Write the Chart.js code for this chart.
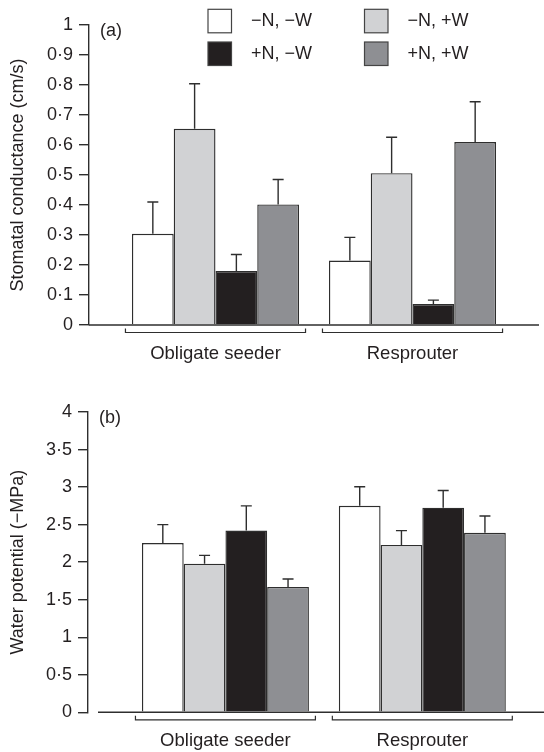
<!DOCTYPE html>
<html>
<head>
<meta charset="utf-8">
<script src="https://cdn.jsdelivr.net/npm/chart.js@4.4.1/dist/chart.umd.min.js"></script>
<style>
  body { margin: 0; background: #fff; }
  .panel { position: absolute; left: 0; width: 544px; height: 376px; }
</style>
</head>
<body>
<div class="panel" style="top:0"><canvas id="chartA" width="544" height="376"></canvas></div>
<div class="panel" style="top:376px"><canvas id="chartB" width="544" height="376"></canvas></div>
<script>
// categories and treatments
const categories = ["Obligate seeder", "Resprouter"];
const treatments = ["\u2212N, \u2212W", "\u2212N, +W", "+N, \u2212W", "+N, +W"];
const fills = ["#ffffff", "#d1d2d4", "#231f20", "#8e8f93"];

// (a) stomatal conductance (cm/s), mean and upper error
const gsMinusNMinusW = [0.304, 0.215];
const gsMinusNPlusW = [0.654, 0.506];
const gsPlusNMinusW = [0.18, 0.07];
const gsPlusNPlusW = [0.402, 0.61];
const gsErrMinusNMinusW = [0.106, 0.077];
const gsErrMinusNPlusW = [0.15, 0.12];
const gsErrPlusNMinusW = [0.055, 0.013];
const gsErrPlusNPlusW = [0.083, 0.134];

// (b) water potential (-MPa), mean and upper error
const wpMinusNMinusW = [2.255, 2.75];
const wpMinusNPlusW = [1.98, 2.23];
const wpPlusNMinusW = [2.42, 2.725];
const wpPlusNPlusW = [1.67, 2.39];
const wpErrMinusNMinusW = [0.245, 0.255];
const wpErrMinusNPlusW = [0.11, 0.19];
const wpErrPlusNMinusW = [0.33, 0.23];
const wpErrPlusNPlusW = [0.105, 0.225];

const gsTicks = [0, 0.1, 0.2, 0.3, 0.4, 0.5, 0.6, 0.7, 0.8, 0.9, 1];
const wpTicks = [0, 0.5, 1, 1.5, 2, 2.5, 3, 3.5, 4];

const ink = "#231f20";
const lineCol = "#2e2e2e";
const groupPct = 0.848;

Chart.defaults.font.family = "'Liberation Sans', Arial, sans-serif";
Chart.defaults.font.size = 18;
Chart.defaults.color = ink;

function fmt(v) {
  return String(Math.round(v * 10) / 10).replace(".", "\u00b7");
}

const decor = {
  id: "decor",
  afterDatasetsDraw(chart, args, opts) {
    const ctx = chart.ctx;
    const x = chart.scales.x, y = chart.scales.y;
    const area = chart.chartArea;
    const base = y.getPixelForValue(0);
    ctx.save();
    ctx.strokeStyle = lineCol;
    ctx.lineWidth = 1.4;

    // error bars
    chart.data.datasets.forEach((ds, di) => {
      const meta = chart.getDatasetMeta(di);
      meta.data.forEach((bar, i) => {
        const top = y.getPixelForValue(ds.data[i].y + ds.err[i]);
        ctx.beginPath();
        ctx.moveTo(bar.x, bar.y);
        ctx.lineTo(bar.x, top);
        ctx.moveTo(bar.x - 5.5, top);
        ctx.lineTo(bar.x + 5.5, top);
        ctx.stroke();
      });
    });

    // baseline
    ctx.beginPath();
    ctx.moveTo(area.left + opts.baseGap, base);
    ctx.lineTo(area.right, base);
    ctx.stroke();

    // brackets under each group
    ctx.lineWidth = 1.2;
    const spacing = x.getPixelForValue(2) - x.getPixelForValue(1);
    const half = spacing * groupPct / 2 + 6.5;
    const by = base + 7.5;
    categories.forEach((c, i) => {
      const cx = x.getPixelForValue(i + 1);
      ctx.beginPath();
      ctx.moveTo(cx - half, by - 4);
      ctx.lineTo(cx - half, by);
      ctx.lineTo(cx + half, by);
      ctx.lineTo(cx + half, by - 4);
      ctx.stroke();
    });

    // panel letter
    ctx.fillStyle = ink;
    ctx.font = "18px 'Liberation Sans', Arial, sans-serif";
    ctx.textBaseline = "middle";
    ctx.textAlign = "left";
    ctx.fillText(opts.letter, area.left + 11, area.top + 6);

    // legend
    if (opts.legend) {
      const colX = [208, 364.5], rowY = [9.3, 42];
      chart.data.datasets.forEach((ds, i) => {
        const bx = colX[i % 2], by2 = rowY[Math.floor(i / 2)];
        ctx.fillStyle = ds.backgroundColor;
        ctx.fillRect(bx, by2, 23.5, 23.5);
        ctx.strokeStyle = "#444";
        ctx.lineWidth = 1.2;
        ctx.strokeRect(bx, by2, 23.5, 23.5);
        ctx.fillStyle = ink;
        ctx.fillText(ds.label, bx + 43, by2 + 12);
      });
    }
    ctx.restore();
  }
};

function makePanel(id, p) {
  const datasets = p.series.map((vals, i) => ({
    label: treatments[i],
    data: vals.map((v, j) => ({ x: j + 1, y: v })),
    err: p.errs[i],
    backgroundColor: fills[i],
    borderColor: lineCol,
    borderWidth: 1.4,
    categoryPercentage: groupPct,
    barPercentage: 1
  }));
  return new Chart(document.getElementById(id), {
    type: "bar",
    data: { datasets },
    plugins: [decor],
    options: {
      responsive: false,
      animation: false,
      layout: { padding: { top: p.padTop, right: p.padRight, left: 0, bottom: 0 } },
      plugins: {
        legend: { display: false },
        tooltip: { enabled: false },
        decor: { letter: p.letter, legend: p.legend, baseGap: p.baseGap }
      },
      scales: {
        x: {
          type: "linear",
          offset: false,
          min: p.xMin,
          max: p.xMax,
          afterBuildTicks: s => { s.ticks = categories.map((c, i) => ({ value: i + 1 })); },
          afterFit: s => { s.height = p.xHeight; },
          grid: { display: false, drawTicks: false },
          border: { display: false },
          ticks: {
            autoSkip: false,
            maxRotation: 0,
            padding: 18,
            color: ink,
            font: { size: 18.5 },
            callback: v => categories[v - 1]
          }
        },
        y: {
          min: 0,
          max: p.yTicks[p.yTicks.length - 1],
          afterBuildTicks: s => { s.ticks = p.yTicks.map(v => ({ value: v })); },
          afterFit: s => { s.width = p.yWidth; },
          grid: { drawOnChartArea: false, tickLength: 10, color: lineCol, lineWidth: 1.4 },
          border: { display: true, color: lineCol, width: 1.4 },
          ticks: { padding: 6, color: ink, callback: v => fmt(v) },
          title: { display: true, text: p.title, color: ink, padding: { top: 7, bottom: 0 } }
        }
      }
    }
  });
}

makePanel("chartA", {
  series: [gsMinusNMinusW, gsMinusNPlusW, gsPlusNMinusW, gsPlusNPlusW],
  errs: [gsErrMinusNMinusW, gsErrMinusNPlusW, gsErrPlusNMinusW, gsErrPlusNPlusW],
  yTicks: gsTicks,
  title: "Stomatal conductance (cm/s)",
  letter: "(a)",
  legend: true,
  baseGap: 0,
  padTop: 25,
  padRight: 5,
  xHeight: 51,
  yWidth: 89,
  xMin: 0.358,
  xMax: 2.642
});

makePanel("chartB", {
  series: [wpMinusNMinusW, wpMinusNPlusW, wpPlusNMinusW, wpPlusNPlusW],
  errs: [wpErrMinusNMinusW, wpErrMinusNPlusW, wpErrPlusNMinusW, wpErrPlusNPlusW],
  yTicks: wpTicks,
  title: "Water potential (\u2212MPa)",
  letter: "(b)",
  legend: false,
  baseGap: 10,
  padTop: 36,
  padRight: 0,
  xHeight: 39.7,
  yWidth: 88,
  xMin: 0.302,
  xMax: 2.618
});
</script>
</body>
</html>
